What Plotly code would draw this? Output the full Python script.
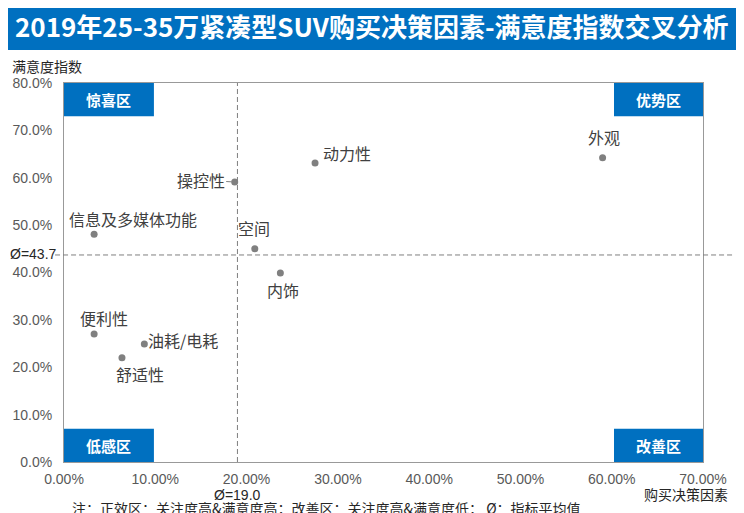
import plotly.graph_objects as go

factors = ["外观", "动力性", "操控性", "空间", "内饰", "信息及多媒体功能", "便利性", "油耗/电耗", "舒适性"]
decision_pct = [59.0, 27.5, 18.7, 20.9, 23.7, 3.3, 3.3, 8.8, 6.35]
satisfaction_pct = [64.2, 63.1, 59.1, 45.0, 39.9, 48.1, 27.0, 24.9, 22.0]
mean_x = 19.0
mean_y = 43.7
x_ticks = [0, 10, 20, 30, 40, 50, 60, 70]
y_ticks = [0, 10, 20, 30, 40, 50, 60, 70, 80]

# label offsets in px (xshift, yshift)
label_offsets = {
    "外观": (1, 21),
    "动力性": (32, 10),
    "操控性": (-34, 2),
    "空间": (-1, 21),
    "内饰": (3, -17),
    "信息及多媒体功能": (39, 15),
    "便利性": (10, 16),
    "油耗/电耗": (39, 4),
    "舒适性": (18, -16),
}

BLUE = "#0070C0"
GRAY = "#595959"
FONT = "Noto Sans CJK SC"

fig = go.Figure()
fig.add_trace(go.Scatter(x=decision_pct, y=satisfaction_pct, mode="markers",
                         marker=dict(color="#808080", size=7), hoverinfo="skip", showlegend=False))

for name, xv, yv in zip(factors, decision_pct, satisfaction_pct):
    dx, dy = label_offsets[name]
    if name == "操控性":
        fig.add_annotation(x=xv, y=yv, text=name, showarrow=True, arrowhead=0, arrowwidth=1,
                           arrowcolor="#808080", ax=dx, ay=-dy, standoff=3,
                           font=dict(family=FONT, size=16, color="#404040"))
    else:
        fig.add_annotation(x=xv, y=yv, text=name, showarrow=False, xshift=dx, yshift=dy,
                           xanchor="center", yanchor="middle",
                           font=dict(family=FONT, size=16, color="#404040"))

# mean lines
fig.add_shape(type="line", xref="x", yref="y", x0=mean_x, x1=mean_x, y0=0, y1=80,
              line=dict(color="#7f7f7f", width=1, dash="5px,3px"))
fig.add_shape(type="line", xref="paper", yref="y", x0=-0.014, x1=1.05, y0=mean_y, y1=mean_y,
              line=dict(color="#7f7f7f", width=1, dash="5px,3px"))

# quadrant boxes
boxes = [("惊喜区", 0, 9.85, 73, 80), ("优势区", 60.25, 70, 73, 80),
         ("低感区", 0, 9.85, 0, 7), ("改善区", 60.25, 70, 0, 7)]
for txt, x0, x1, y0, y1 in boxes:
    fig.add_shape(type="rect", xref="x", yref="y", x0=x0, x1=x1, y0=y0, y1=y1,
                  fillcolor=BLUE, line=dict(width=0), layer="above")
    fig.add_annotation(x=(x0 + x1) / 2, y=(y0 + y1) / 2, text="<b>" + txt + "</b>", showarrow=False,
                       xanchor="center", yanchor="middle",
                       font=dict(family=FONT, size=15, color="white"))

# title bar
fig.add_shape(type="rect", xref="paper", yref="paper", x0=-0.0923, x1=1.058, y0=1.087, y1=1.25,
              fillcolor=BLUE, line=dict(width=0))
fig.add_annotation(xref="paper", yref="paper", x=0.482, y=1.153, showarrow=False,
                   xanchor="center", yanchor="middle",
                   text="<b>2019年25-35万紧凑型SUV购买决策因素-满意度指数交叉分析</b>",
                   font=dict(family=FONT, size=26, color="white"))

fig.add_annotation(xref="paper", yref="paper", x=-0.0845, y=1.045, xanchor="left", yanchor="middle",
                   showarrow=False, text="满意度指数", font=dict(family=FONT, size=14, color="#262626"))
fig.add_annotation(xref="paper", yref="paper", x=1.042, y=-0.084, xanchor="right", yanchor="middle",
                   showarrow=False, text="购买决策因素", font=dict(family=FONT, size=14, color="#262626"))
fig.add_annotation(xref="paper", yref="y", x=-0.0876, y=mean_y, xanchor="left", yanchor="middle",
                   yshift=1, showarrow=False,
                   text="Ø=%.1f" % mean_y, font=dict(family="Liberation Sans", size=14, color="#262626"))
fig.add_annotation(xref="x", yref="paper", x=mean_x, y=-0.087, xanchor="center", yanchor="middle",
                   showarrow=False,
                   text="Ø=%.1f" % mean_x, font=dict(family="Liberation Sans", size=14, color="#262626"))
fig.add_annotation(xref="paper", yref="paper", x=0.0094, y=-0.121, xanchor="left", yanchor="middle",
                   showarrow=False,
                   text="注：正效区：关注度高&满意度高；改善区：关注度高&满意度低； Ø：指标平均值",
                   font=dict(family=FONT, size=14, color="#262626"))

# page body has an 8px margin, so the figure is sized/shifted to keep the plot in place
fig.update_layout(
    width=736, height=505,
    margin=dict(l=56, r=41, t=75, b=51),
    plot_bgcolor="white", paper_bgcolor="white",
    xaxis=dict(range=[0, 70], tickvals=x_ticks, ticktext=["%.2f%%" % v for v in x_ticks],
               showgrid=False, zeroline=False, showline=True, linecolor="#999999", mirror=True,
               ticks="", ticklabelstandoff=4, automargin=False,
               tickfont=dict(family="Liberation Sans", size=14, color=GRAY)),
    yaxis=dict(range=[0, 80], tickvals=y_ticks, ticktext=["%.1f%%" % v for v in y_ticks],
               showgrid=False, zeroline=False, showline=True, linecolor="#999999", mirror=True,
               ticks="", ticklabelstandoff=8, automargin=False,
               tickfont=dict(family="Liberation Sans", size=14, color=GRAY)),
)

fig.write_html("out.html")
